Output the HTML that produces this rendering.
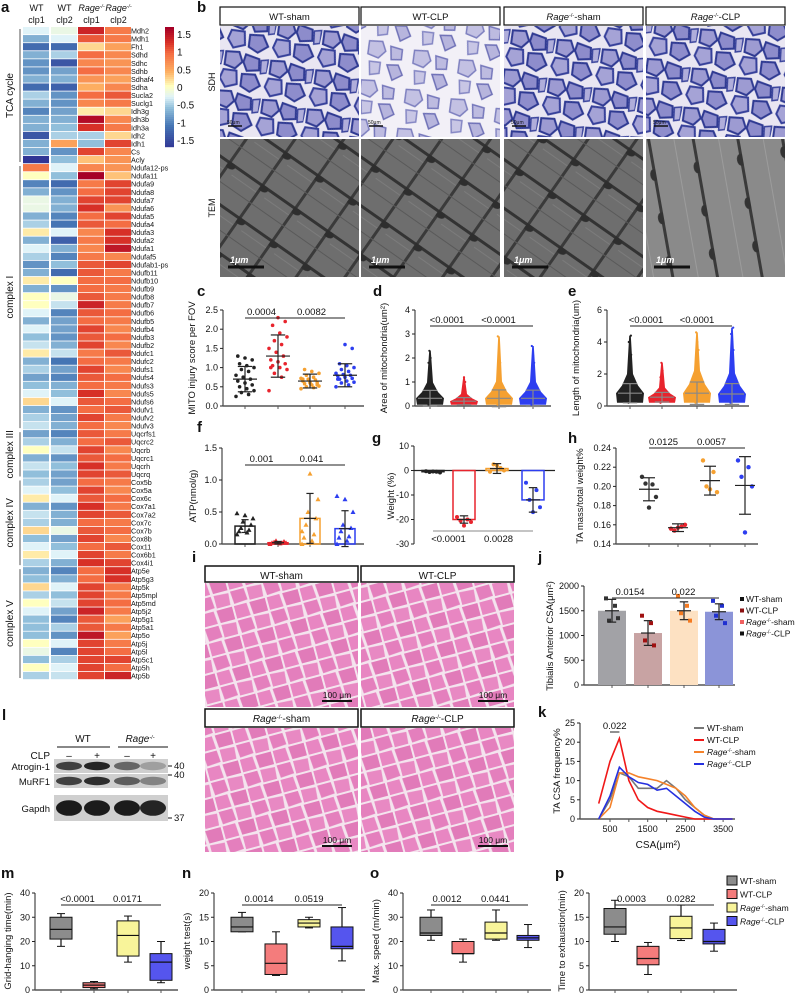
<!DOCTYPE html>
<html><head><meta charset="utf-8">
<style>
html,body{margin:0;padding:0;background:#fff;}
svg{display:block;font-family:"Liberation Sans",Arial,sans-serif;}
</style></head>
<body>
<svg id="fig" width="797" height="997" viewBox="0 0 797 997" xmlns="http://www.w3.org/2000/svg">
<defs>
<pattern id="sdh" width="46" height="40" patternUnits="userSpaceOnUse" patternTransform="rotate(12)">
<rect width="46" height="40" fill="#e9e6f2"/>
<path d="M2 3 L15 1 L20 10 L14 18 L3 16 Z" fill="#9d9bd2" stroke="#2f3a92" stroke-width="2"/>
<path d="M22 2 L36 4 L38 15 L26 18 L21 10 Z" fill="#8d8ccb" stroke="#2f3a92" stroke-width="2"/>
<path d="M3 21 L16 20 L19 33 L8 38 L1 30 Z" fill="#a5a3d6" stroke="#36409a" stroke-width="2"/>
<path d="M22 22 L35 20 L42 30 L33 38 L23 34 Z" fill="#8e8dcc" stroke="#2f3a92" stroke-width="2"/>
<path d="M38 5 L45 3 L46 16 L40 18 Z" fill="#b0aedb" stroke="#3a449c" stroke-width="1.5"/>
</pattern>
<pattern id="sdh2" width="46" height="40" patternUnits="userSpaceOnUse" patternTransform="rotate(12)">
<rect width="46" height="40" fill="#f2f0f7"/>
<path d="M2 3 L15 1 L20 10 L14 18 L3 16 Z" fill="#c3c1e3" stroke="#7d7fbf" stroke-width="1.5"/>
<path d="M24 4 L36 5 L37 15 L27 17 Z" fill="#bdbbe0" stroke="#7577bb" stroke-width="1.5"/>
<path d="M6 23 L17 22 L18 33 L9 36 Z" fill="#c8c6e5" stroke="#8587c4" stroke-width="1.5"/>
<path d="M24 23 L35 21 L41 30 L32 37 Z" fill="#b7b5dd" stroke="#6f71b7" stroke-width="1.5"/>
</pattern>
<pattern id="tem" width="40" height="40" patternUnits="userSpaceOnUse" patternTransform="rotate(35)">
<rect width="40" height="40" fill="#6e6e6e"/>
<rect x="0" y="0" width="40" height="3" fill="#333"/>
<rect x="0" y="0" width="3" height="40" fill="#3a3a3a"/>
<rect x="10" y="10" width="40" height="1" fill="#7c7c7c"/>
<rect x="0" y="22" width="40" height="1" fill="#595959"/>
<ellipse cx="3" cy="3" rx="6" ry="4" fill="#2e2e2e"/>
</pattern>
<pattern id="tem2" width="44" height="44" patternUnits="userSpaceOnUse" patternTransform="rotate(80)">
<rect width="44" height="44" fill="#8a8a8a"/>
<rect x="0" y="0" width="44" height="3" fill="#3a3a3a"/>
<rect x="0" y="20" width="44" height="1" fill="#9c9c9c"/>
<ellipse cx="22" cy="2" rx="6" ry="4" fill="#333"/>
</pattern>
<pattern id="he" width="34" height="30" patternUnits="userSpaceOnUse" patternTransform="rotate(-15)">
<rect width="34" height="30" fill="#f4e4ee"/>
<path d="M1 1 L15 1 L16 13 L2 14 Z" fill="#e47fbd"/>
<path d="M18 1 L33 2 L32 14 L18 14 Z" fill="#e889c3"/>
<path d="M1 16 L14 16 L15 29 L1 29 Z" fill="#e886c2"/>
<path d="M17 16 L33 16 L33 29 L18 29 Z" fill="#e17bb9"/>
</pattern>
</defs>
</svg>
<script>
// ===== data =====
const genes = ["Mdh2","Mdh1","Fh1","Sdhd","Sdhc","Sdhb","Sdhaf4","Sdha","Sucla2","Suclg1","Idh3g","Idh3b","Idh3a","Idh2","Idh1","Cs","Acly",
"Ndufa12-ps","Ndufa11","Ndufa9","Ndufa8","Ndufa7","Ndufa6","Ndufa5","Ndufa4","Ndufa3","Ndufa2","Ndufa1","Ndufaf5","Ndufab1-ps","Ndufb11","Ndufb10","Ndufb9","Ndufb8","Ndufb7","Ndufb6","Ndufb5","Ndufb4","Ndufb3","Ndufb2","Ndufc1","Ndufc2","Ndufs1","Ndufs4","Ndufs3","Ndufs5","Ndufs6","Ndufv1","Ndufv2","Ndufv3",
"Uqcrfs1","Uqcrc2","Uqcrb","Uqcrc1","Uqcrh","Uqcrq",
"Cox5b","Cox5a","Cox6c","Cox7a1","Cox7a2","Cox7c","Cox7b","Cox8b","Cox11","Cox6b1","Cox4i1",
"Atp5e","Atp5g3","Atp5k","Atp5mpl","Atp5md","Atp5j2","Atp5g1","Atp5a1","Atp5o","Atp5j","Atp5l","Atp5c1","Atp5h","Atp5b"];
const wt1 = [-0.2,-0.6,-1.1,-0.6,-0.8,-0.8,-0.6,-1.1,-0.4,-0.6,-0.9,-0.6,-0.6,-1.3,-0.6,-0.6,-1.6,
0.9,0.1,-0.9,-0.6,-0.1,-0.1,-0.6,-0.4,0.2,-0.6,-0.2,-0.4,-0.8,-0.6,0.2,-0.6,0.1,0.1,-0.2,-0.6,-0.2,-0.5,-0.3,0.2,-0.6,-0.4,-0.7,-0.5,-0.2,0.3,-0.6,-0.4,-0.3,
-0.7,-0.4,0.1,-0.6,-0.3,-0.5,
-0.4,-0.2,0.2,-0.6,-0.3,-0.4,0.3,-0.5,-0.2,0.2,-0.4,
-0.6,-0.5,0.3,-0.4,0.1,-0.2,-0.5,-0.5,-0.5,0.1,-0.1,-0.5,0.1,-0.4];
const wt2 = [-0.1,-0.2,-1.1,-0.4,-1.3,-0.7,-0.6,-1.2,-0.8,-0.8,-0.7,-0.6,-0.5,-0.4,0.6,-0.8,-0.5,
-0.2,-0.5,-1.1,-0.8,-0.6,-0.6,-0.9,-1.0,-0.2,-1.2,-0.6,-0.9,-0.5,-1.1,0.1,-0.8,-0.1,-0.3,-0.9,-0.7,-0.7,-0.8,-0.6,-0.3,-1.0,-0.7,-0.9,-0.6,-0.5,-0.2,-0.8,-0.7,-0.6,
-0.9,-0.6,-0.3,-0.8,-0.5,-0.7,
-0.7,-0.5,-0.2,-0.8,-0.6,-0.6,-0.1,-0.7,-0.5,-0.2,-0.6,
-0.9,-0.6,-0.2,-0.5,-0.3,-0.7,-0.9,-0.4,-0.8,-0.2,-0.9,-0.4,-0.2,-0.3];
const rg1 = [1.4,1.1,0.3,1.0,0.8,1.0,0.7,0.5,1.0,0.8,0.2,1.6,1.3,-0.4,-0.5,1.2,0.4,
0.8,1.7,0.9,1.0,1.2,1.3,1.0,1.1,0.8,0.9,0.8,0.9,1.1,1.1,1.0,1.0,1.1,1.4,1.1,1.0,1.2,1.1,1.2,0.9,1.0,1.2,1.1,1.0,1.3,1.1,1.0,1.2,1.0,
1.1,1.0,1.2,1.1,1.3,1.2,
1.0,1.2,1.1,1.3,1.2,1.0,1.1,1.2,1.0,1.2,1.3,
1.0,1.0,1.2,1.2,1.2,1.4,1.1,1.1,1.5,1.2,1.2,1.2,1.2,1.2];
const rg2 = [0.9,0.9,0.6,0.8,0.7,0.8,0.6,0.8,1.1,0.9,0.3,0.8,0.9,0.3,1.2,0.8,0.7,
0.7,0.4,1.2,1.2,1.2,0.7,1.2,1.0,1.3,1.3,1.5,0.8,1.2,0.9,1.0,0.9,0.9,0.9,1.0,0.9,0.8,1.0,0.8,1.1,0.9,0.8,1.0,0.9,0.8,1.0,1.1,0.9,0.8,
0.9,1.1,0.8,1.0,0.9,1.1,
0.9,0.8,1.0,0.9,1.1,0.9,1.0,0.8,1.1,0.9,1.2,
1.3,1.3,0.9,0.9,1.0,0.9,0.6,0.9,0.6,0.9,1.0,1.2,1.0,1.4];
const groupNames = ["TCA cycle","complex I","complex III","complex IV","complex V"];
const groupSizes = [17,33,6,11,14];

const cVals = [[0.25,0.3,0.35,0.4,0.45,0.5,0.55,0.6,0.65,0.7,0.75,0.8,0.9,0.95,1.0,1.05,1.1,1.2,1.25,1.3],
[0.4,0.75,0.85,0.95,1.0,1.05,1.1,1.15,1.2,1.3,1.4,1.5,1.6,1.7,1.8,1.9,2.1,2.2,2.3,1.0],
[0.45,0.48,0.5,0.52,0.55,0.58,0.6,0.62,0.65,0.68,0.7,0.72,0.75,0.8,0.85,0.9,0.95,0.55,0.6,0.7],
[0.5,0.55,0.6,0.62,0.65,0.7,0.72,0.75,0.78,0.8,0.82,0.85,0.9,0.95,1.0,1.05,1.1,1.5,1.6,0.7]];
const cMean=[0.7,1.3,0.65,0.8], cSd=[0.33,0.55,0.18,0.3];
const dVals=[[0.05,0.1,0.12,0.15,0.18,0.2,0.22,0.25,0.28,0.3,0.35,0.4,0.45,0.5,0.6,0.7,0.8,0.9,1.0,1.2,1.4,1.6,1.8,2.0,2.3],
[0.05,0.08,0.1,0.12,0.14,0.16,0.18,0.2,0.22,0.25,0.3,0.35,0.4,0.5,0.6,0.7,0.8,1.0,1.2],
[0.05,0.1,0.12,0.15,0.18,0.2,0.25,0.3,0.35,0.4,0.5,0.6,0.7,0.8,1.0,1.2,1.5,1.8,2.1,2.9],
[0.05,0.1,0.12,0.15,0.18,0.2,0.25,0.3,0.35,0.4,0.5,0.6,0.7,0.8,1.0,1.2,1.5,1.8,2.1,2.5]];
const dMean=[0.32,0.2,0.32,0.32], dSd=[0.33,0.15,0.35,0.34];
const eVals=[[0.2,0.3,0.4,0.5,0.6,0.7,0.8,0.9,1.0,1.1,1.2,1.4,1.6,1.8,2.0,2.4,2.8,3.2,3.6,4.0,4.4],
[0.2,0.3,0.4,0.5,0.6,0.7,0.8,0.9,1.0,1.2,1.5,1.8,2.2,2.7],
[0.2,0.3,0.4,0.5,0.6,0.7,0.8,0.9,1.0,1.2,1.5,2.0,2.5,3.0,3.5,4.0,4.6],
[0.2,0.3,0.4,0.5,0.6,0.7,0.8,0.9,1.0,1.2,1.5,2.0,2.5,3.0,3.5,4.0,4.5,4.9]];
const eMean=[0.8,0.55,0.8,0.75], eSd=[0.6,0.3,0.7,0.65];
const fVals=[[0.15,0.18,0.2,0.22,0.25,0.3,0.35,0.4,0.45,0.48],[0.0,0.01,0.02,0.02,0.03,0.04,0.05,0.02],
[0.0,0.05,0.1,0.15,0.3,0.4,0.5,0.7,1.1,0.2],[0.0,0.05,0.1,0.12,0.2,0.25,0.3,0.5,0.7,0.75]];
const fMean=[0.28,0.02,0.4,0.24], fSd=[0.1,0.02,0.39,0.28];
const gVals=[[-0.3,-0.5,-0.6,-0.8,-0.4],[-19,-20,-20.5,-21,-22.5],[-0.5,1,2.5,0,2],[-5,-8,-12,-15,-17]];
const gMean=[-0.5,-20,0.8,-12], gSd=[0.3,1.5,2,5];
const hVals=[[0.21,0.202,0.203,0.189,0.178],[0.156,0.158,0.154,0.16,0.157],[0.227,0.215,0.2,0.194,0.197],[0.227,0.22,0.21,0.2,0.152]];
const hMean=[0.197,0.157,0.206,0.201], hSd=[0.012,0.004,0.015,0.03];
const jMean=[1500,1050,1500,1480], jSd=[230,250,180,160];
const jVals=[[1750,1600,1300,1350],[1400,1250,900,800],[1800,1600,1450,1300],[1700,1600,1400,1250]];
const kX=[200,500,750,1000,1250,1500,1750,2000,2250,2500,2750,3000,3250,3500,3750];
const kWtSham=[0,5,12,11,8,8,8,10,8,5,3,1,0,0,0];
const kWtClp=[4,15,21,10,5,3,2,1.5,1,0.5,0,0,0,0,0];
const kRgSham=[0,3,12,12,11,10.5,10,9,8,6,3,1,0,0,0];
const kRgClp=[0,6,13.5,11,9.5,9,7.5,8,6,4,2,0.5,0,0,0];
const mBox=[[18,21,25,30,31.5],[0.5,1,2,3,3.5],[11.5,14,22.5,28.5,30.5],[3,4,11.5,15,20]];
const nBox=[[12,12,13,15,16],[3,3.2,5.5,9.5,12],[12.8,13,13.8,14.5,15],[6,8.5,9,13,17]];
const oBox=[[20.5,22.5,23.5,30,33],[11.5,15,15,20,21],[20.5,21,23.5,28,33],[17.5,20.5,21.5,22.5,27]];
const pBox=[[10,11.5,13,16.8,18.5],[3.2,5.2,6.5,9,9.8],[10.2,10.6,12.8,15.2,17.5],[8,9.5,10,12.5,13.8]];

// ===== helpers =====
const NS="http://www.w3.org/2000/svg";
const svg=document.getElementById('fig');
function mk(tag,attrs,parent){const e=document.createElementNS(NS,tag);for(const k in attrs)e.setAttribute(k,attrs[k]);(parent||svg).appendChild(e);return e;}
function txt(x,y,s,size,opts,parent){const o=Object.assign({x:x,y:y,'font-size':size,fill:'#111'},opts||{});const t=mk('text',o,parent);t.textContent=s;return t;}
function grp(name){const g=mk('g',{});return g;}
function lerp(a,b,t){return a+(b-a)*t;}
const stops=[[-1.6,[49,54,149]],[-1.0,[69,117,180]],[-0.5,[145,191,219]],[-0.2,[224,243,248]],[0.1,[255,255,191]],[0.5,[253,174,97]],[1.0,[244,109,67]],[1.3,[215,48,39]],[1.7,[165,0,38]]];
function hc(v){if(v<=stops[0][0])return 'rgb('+stops[0][1]+')';for(let i=1;i<stops.length;i++){if(v<=stops[i][0]){const t=(v-stops[i-1][0])/(stops[i][0]-stops[i-1][0]);const c=stops[i-1][1].map((a,j)=>Math.round(lerp(a,stops[i][1][j],t)));return 'rgb('+c+')';}}return 'rgb('+stops[stops.length-1][1]+')';}
function panelLabel(x,y,s){const t=txt(x,y,s,15,{'font-weight':'bold'});}
function yAxis(g,x,yTop,yBot,min,max,ticks,fmt){const sc=v=>yBot-(v-min)/(max-min)*(yBot-yTop);mk('line',{x1:x,y1:sc(ticks[ticks.length-1]),x2:x,y2:sc(ticks[0]),stroke:'#222','stroke-width':1},g);ticks.forEach(t=>{mk('line',{x1:x-3,y1:sc(t),x2:x,y2:sc(t),stroke:'#222'},g);txt(x-5,sc(t)+3,fmt?fmt(t):String(t),9,{'text-anchor':'end'},g);});return sc;}
function yTitle(g,x,y,s,size){txt(x,y,s,size||9.5,{'text-anchor':'middle',transform:'rotate(-90 '+x+' '+y+')'},g);}
function xAxis(g,x0,x1,y,xs){mk('line',{x1:x0,y1:y,x2:x1,y2:y,stroke:'#555','stroke-width':1.5},g);xs.forEach(x=>mk('line',{x1:x,y1:y,x2:x,y2:y+3,stroke:'#555'},g));}
function bracket(g,x0,x1,y,s){mk('line',{x1:x0,y1:y,x2:x1,y2:y,stroke:'#222'},g);txt((x0+x1)/2,y-3,s,9.5,{'text-anchor':'middle'},g);}
function errBar(g,x,sc,m,sd,w,col){mk('line',{x1:x,y1:sc(m-sd),x2:x,y2:sc(m+sd),stroke:col||'#222','stroke-width':1.2},g);[m-sd,m,m+sd].forEach((v,i)=>mk('line',{x1:x-(i==1?w:w*0.6),y1:sc(v),x2:x+(i==1?w:w*0.6),y2:sc(v),stroke:col||'#222','stroke-width':1.2},g));}
const cols4=['#222','#e8242d','#f5a030','#2d3ef0'];

// ===== panel a heatmap =====
panelLabel(1,12,'a');
(function(){
const g=grp('heatmap');
const colX=[23,51,78,105], cw=27, y0=27, rh=(680-27)/81;
const cols=[wt1,wt2,rg1,rg2];
const heads=[['WT','clp1'],['WT','clp2'],['Rage','clp1'],['Rage','clp2']];
heads.forEach((h,i)=>{
 const t=txt(colX[i]+cw/2,11,h[0],9,{'text-anchor':'middle','font-style':i>1?'italic':'normal'},g);
 if(i>1){const ts=mk('tspan',{'font-size':5,dy:-3},t);ts.textContent='-/-';}
 txt(colX[i]+cw/2,23,h[1],9,{'text-anchor':'middle'},g);
});
genes.forEach((gn,r)=>{
 cols.forEach((arr,c)=>{
  const cell=mk('rect',{x:colX[c],y:y0+r*rh,width:cw-1,height:rh-0.8,fill:hc(arr[r])},g);
  
  
 });
 txt(131,y0+r*rh+rh-1.5,gn,7.2,{},g);
});
let acc=0;
groupNames.forEach((n,i)=>{
 const ya=y0+acc*rh+2, yb=y0+(acc+groupSizes[i])*rh-2;
 mk('line',{x1:20,y1:ya,x2:20,y2:yb,stroke:'#555','stroke-width':1},g);
 const ym=(ya+yb)/2;
 txt(13,ym,n,10,{'text-anchor':'middle',transform:'rotate(-90 13 '+ym+')'},g);
 acc+=groupSizes[i];
});
const cb=grp('heatmap-colorbar');
for(let k=0;k<60;k++){const v=1.7-k*(3.3/60);mk('rect',{x:165,y:27+k*2,width:9,height:2.2,fill:hc(v)},cb);}
const cy=v=>34+(1.5-v)/3*(140-34);
[1.5,1,0.5,0,-0.5,-1,-1.5].forEach(v=>{txt(177,cy(v)+4,String(v),10,{},cb);});
})();

// ===== panel b images =====
panelLabel(197,12,'b');
(function(){
const g=grp('micrograph-grid');
const xs=[220,361,504,646], w=139;
const names=[['WT-sham',''],['WT-CLP',''],['Rage','-sham'],['Rage','-CLP']];
names.forEach((n,i)=>{
 const h=mk('rect',{x:xs[i],y:7,width:w,height:18,fill:'#fff',stroke:'#111','stroke-width':1.2},g);
 
 
 const t=txt(xs[i]+w/2,20,n[0],9.5,{'text-anchor':'middle','font-style':i>1?'italic':'normal'},g);
 if(i>1){const s1=mk('tspan',{'font-size':5.5,dy:-3,'font-style':'normal'},t);s1.textContent='-/-';const s2=mk('tspan',{dy:3,'font-style':'normal'},t);s2.textContent=n[1];}
 const im=mk('rect',{x:xs[i],y:26,width:w,height:111,fill:i==1?'url(#sdh2)':'url(#sdh)'},g);
 
 
 mk('line',{x1:xs[i]+8,y1:126,x2:xs[i]+22,y2:126,stroke:'#111','stroke-width':1.5},g);
 txt(xs[i]+7,124,'50μm',5,{},g);
 const tm=mk('rect',{x:xs[i],y:139,width:w,height:138,fill:i==3?'url(#tem2)':'url(#tem)'},g);
 
 
 mk('line',{x1:xs[i]+8,y1:267,x2:xs[i]+44,y2:267,stroke:'#111','stroke-width':3},g);
 txt(xs[i]+10,263,'1μm',9,{'font-style':'italic','font-weight':'bold',fill:'#fff'},g);
});
txt(215,82,'SDH',9,{'text-anchor':'middle',transform:'rotate(-90 215 82)'},g);
txt(215,208,'TEM',9,{'text-anchor':'middle',transform:'rotate(-90 215 208)'},g);
})();

// ===== scatter panels c, d, e =====
function scatterPanel(name,label,lx,ly,axX,axR,yTop,yBot,min,max,ticks,xs,vals,means,sds,title,br,brY,dense,fmt){
 panelLabel(lx,ly,label);
 const g=grp(name);
 const sc=yAxis(g,axX,yTop,yBot,min,max,ticks,fmt);
 xAxis(g,axX,axR,yBot,xs);
 yTitle(g,axX-28,(yTop+yBot)/2,title);
 vals.forEach((arr,gi)=>{
  const x=xs[gi];
  if(dense){
   const top=Math.max(...arr), core=means[gi], lo=Math.min(...arr);
   const pts=[[lo,13],[core,14],[core+sds[gi]*0.8,8],[core+sds[gi]*2,3],[top,0.8]];
   const d='M'+pts.map(p=>(x-p[1]).toFixed(1)+' '+sc(p[0]).toFixed(1)).join(' L')+' L'+pts.slice().reverse().map(p=>(x+p[1]).toFixed(1)+' '+sc(p[0]).toFixed(1)).join(' L')+' Z';
   const blob=mk('path',{d:d,fill:cols4[gi]},g);
   
   
  }
  arr.forEach((v,i)=>{
   const spread=dense?1.5:9;
   const off=((i*7)%11-5)/5*spread;
   const p=mk('circle',{cx:x+off,cy:sc(v),r:dense?1.1:1.8,fill:cols4[gi]},g);
   
   
  });
  errBar(g,x,sc,means[gi],sds[gi],12,dense?'#888':'#222');
 });
 bracket(g,xs[0],xs[1],brY,br[0]);bracket(g,xs[1],xs[3],brY,br[1]);
 return sc;
}
scatterPanel('chart-c-mito-injury','c',197,296,223,364,310,406,0,2.5,[0,0.5,1,1.5,2,2.5],[245,278,310,345],cVals,cMean,cSd,'MITO injury score per FOV',['0.0004','0.0082'],318,false,v=>v.toFixed(1));
scatterPanel('chart-d-mito-area','d',373,296,415,551,310,406,0,4,[0,1,2,3,4],[430,464,499,533],dVals,dMean,dSd,'Area of mitochondria(um²)',['<0.0001','<0.0001'],326,true);
scatterPanel('chart-e-mito-length','e',568,296,607,749,310,406,0,6,[0,2,4,6],[630,662,697,732],eVals,eMean,eSd,'Length of mitochondria(um)',['<0.0001','<0.0001'],326,true);

// ===== f: ATP bars =====
(function(){
 panelLabel(197,432,'f');
 const g=grp('chart-f-atp');
 const xs=[245,278,310,345];
 const sc=yAxis(g,222,448,544,0,1.5,[0,0.5,1,1.5],v=>v.toFixed(1));
 xAxis(g,222,364,544,xs);
 yTitle(g,196,496,'ATP(nmol/g)');
 fMean.forEach((m,i)=>{
  const b=mk('rect',{x:xs[i]-10,y:sc(m),width:20,height:sc(0)-sc(m),fill:'none',stroke:cols4[i],'stroke-width':1.5},g);
  
  
  fVals[i].forEach((v,k)=>{const p=mk('path',{d:'M'+(xs[i]+((k*5)%9-4)*2)+' '+(sc(v)-2.5)+'l2.5 4.5h-5z',fill:i==0?'#222':cols4[i]},g);});
  errBar(g,xs[i],sc,m,fSd[i],6);
 });
 bracket(g,xs[0],xs[1],465,'0.001');bracket(g,xs[1],xs[3],465,'0.041');
})();

// ===== g: weight bars =====
(function(){
 panelLabel(372,443,'g');
 const g=grp('chart-g-weight');
 const xs=[433,464,497,533];
 const sc=yAxis(g,414,446,544,-30,10,[-30,-20,-10,0,10]);
 mk('line',{x1:414,y1:sc(0),x2:555,y2:sc(0),stroke:'#222','stroke-width':1.2},g);
 yTitle(g,394,496,'Weight (%)');
 gMean.forEach((m,i)=>{
  const y0=Math.min(sc(0),sc(m)),h=Math.abs(sc(m)-sc(0));
  const b=mk('rect',{x:xs[i]-11,y:y0,width:22,height:h,fill:'none',stroke:cols4[i],'stroke-width':1.5},g);
  
  
  gVals[i].forEach((v,k)=>{const p=mk('circle',{cx:xs[i]+((k*3)%5-2)*3.5,cy:sc(v),r:2,fill:i==0?'#222':cols4[i]},g);});
  errBar(g,xs[i],sc,m,gSd[i],7);
 });
 mk('line',{x1:xs[0],y1:531,x2:xs[1],y2:531,stroke:'#888'},g);
 mk('line',{x1:xs[1],y1:531,x2:xs[3],y2:531,stroke:'#888'},g);
 txt((xs[0]+xs[1])/2,542,'<0.0001',9.5,{'text-anchor':'middle'},g);
 txt((xs[1]+xs[3])/2,542,'0.0028',9.5,{'text-anchor':'middle'},g);
})();

// ===== h: TA mass =====
(function(){
 panelLabel(568,443,'h');
 const g=grp('chart-h-ta-mass');
 const xs=[649,678,710,745];
 const sc=yAxis(g,616,448,544,0.14,0.24,[0.14,0.16,0.18,0.2,0.22,0.24],v=>v.toFixed(2));
 xAxis(g,616,758,544,xs);
 yTitle(g,583,496,'TA mass/total weight%');
 hVals.forEach((arr,i)=>{
  arr.forEach((v,k)=>{const p=mk('circle',{cx:xs[i]+((k*3)%5-2)*3.5,cy:sc(v),r:2.2,fill:i==0?'#333':cols4[i]},g);});
  errBar(g,xs[i],sc,hMean[i],hSd[i],10);
 });
 bracket(g,xs[0],xs[1],448,'0.0125');bracket(g,xs[1],xs[3],448,'0.0057');
})();

// ===== i: H&E =====
panelLabel(192,562,'i');
(function(){
 const g=grp('he-image-grid');
 const xs=[205,361],w=153;
 const hd=[['WT-sham',566],['WT-CLP',566],['Rage','-sham',709],['Rage','-CLP',709]];
 [[0,566,583,124],[1,566,583,124],[0,709,728,124],[1,709,728,124]].forEach((c,i)=>{
  const x=xs[c[0]];
  const h=mk('rect',{x:x,y:c[1],width:w,height:c[2]-c[1]-1,fill:'#fff',stroke:'#111','stroke-width':1.5},g);
  
  
  const lab=hd[i];
  const t=txt(x+w/2,c[1]+13,lab[0],10,{'text-anchor':'middle','font-style':i>1?'italic':'normal'},g);
  if(i>1){const s1=mk('tspan',{'font-size':6,dy:-3,'font-style':'normal'},t);s1.textContent='-/-';const s2=mk('tspan',{dy:3,'font-style':'normal'},t);s2.textContent=lab[1];}
  const im=mk('rect',{x:x,y:c[2],width:w,height:c[3],fill:'url(#he)'},g);
  
  
  mk('line',{x1:x+w-36,y1:c[2]+c[3]-6,x2:x+w-6,y2:c[2]+c[3]-6,stroke:'#111','stroke-width':2},g);
  txt(x+w-21,c[2]+c[3]-9,'100 μm',8.5,{'text-anchor':'middle'},g);
 });
})();

// ===== j: CSA bars =====
(function(){
 panelLabel(538,562,'j');
 const g=grp('chart-j-csa');
 const xs=[612,648,684,719];
 const fills=['#a2a2a6','#c8a3a3','#fde1c2','#8b94d8'];
 const ptc=['#333','#a01010','#f57a20','#2030d0'];
 const sc=yAxis(g,584,586,685,0,2000,[0,500,1000,1500,2000]);
 xAxis(g,584,735,685,xs);
 yTitle(g,553,636,'Tibialis Anterior CSA(μm²)');
 jMean.forEach((m,i)=>{
  const b=mk('rect',{x:xs[i]-14,y:sc(m),width:28,height:sc(0)-sc(m),fill:fills[i]},g);
  
  
  jVals[i].forEach((v,k)=>{const p=mk('rect',{x:xs[i]+((k*3)%5-2)*3-2,y:sc(v)-2,width:4,height:4,fill:ptc[i]},g);});
  errBar(g,xs[i],sc,m,jSd[i],7);
 });
 bracket(g,xs[0],xs[1],598,'0.0154');bracket(g,xs[1],xs[3],598,'0.022');
 const lg=grp('legend-j');
 const ln=[['WT-sham','#111',''],['WT-CLP','#8b1010',''],['Rage','#f06060','-sham'],['Rage','#111','-CLP']];
 ln.forEach((l,i)=>{const y=602+i*11.5;mk('rect',{x:740,y:y-5,width:4,height:4,fill:l[1]},lg);const t=txt(746,y,l[0],8.5,{'font-style':i>1?'italic':'normal'},lg);if(i>1){const s=mk('tspan',{'font-size':5,dy:-3,'font-style':'normal'},t);s.textContent='-/-';const s2=mk('tspan',{dy:3,'font-style':'normal'},t);s2.textContent=l[2];}});
})();

// ===== k: CSA frequency lines =====
(function(){
 panelLabel(538,717,'k');
 const g=grp('chart-k-csa-frequency');
 const xsc=v=>610+(v-500)*0.0377;
 const sc=yAxis(g,580,723,819,0,25,[0,5,10,15,20,25]);
 mk('line',{x1:580,y1:819,x2:735,y2:819,stroke:'#555','stroke-width':1.5},g);
 [500,1500,2500,3500].forEach(v=>{mk('line',{x1:xsc(v),y1:819,x2:xsc(v),y2:822,stroke:'#555'},g);txt(xsc(v),832,String(v),9,{'text-anchor':'middle'},g);});
 [1000,2000,3000].forEach(v=>mk('line',{x1:xsc(v),y1:819,x2:xsc(v),y2:822,stroke:'#555'},g));
 txt(658,848,'CSA(μm²)',10,{'text-anchor':'middle'},g);
 yTitle(g,560,771,'TA CSA frequency%');
 const series=[[kWtSham,'#777','WT-sham'],[kWtClp,'#f01818','WT-CLP'],[kRgSham,'#f5822a','Rage-sham'],[kRgClp,'#2530e0','Rage-CLP']];
 series.forEach(s=>{
  const d=kX.map((x,i)=>(i?'L':'M')+xsc(x).toFixed(1)+' '+sc(s[0][i]).toFixed(1)).join(' ');
  const p=mk('path',{d:d,fill:'none',stroke:s[1],'stroke-width':1.6},g);
  
  
 });
 bracket(g,xsc(500),xsc(750),732,'0.022');
 const lg=grp('legend-k');
 series.forEach((s,i)=>{const y=731+i*12;mk('line',{x1:694,y1:y-3,x2:704,y2:y-3,stroke:s[1],'stroke-width':2},lg);const isR=i>1;const t=txt(707,y,isR?'Rage':s[2],8.5,{'font-style':isR?'italic':'normal'},lg);if(isR){const a=mk('tspan',{'font-size':5,dy:-3,'font-style':'normal'},t);a.textContent='-/-';const b=mk('tspan',{dy:3,'font-style':'normal'},t);b.textContent=s[2].slice(4);}});
})();

// ===== l: western blot =====
(function(){
 panelLabel(2,720,'l');
 const g=grp('western-blot');
 const lanes=[69,97,127,153];
 txt(83,742,'WT',10,{'text-anchor':'middle'},g);
 mk('line',{x1:57,y1:747,x2:110,y2:747,stroke:'#111'},g);
 const r=txt(140,742,'Rage',10,{'text-anchor':'middle','font-style':'italic'},g);const rs=mk('tspan',{'font-size':5.5,dy:-3},r);rs.textContent='-/-';
 mk('line',{x1:118,y1:747,x2:168,y2:747,stroke:'#111'},g);
 txt(50,759,'CLP',10,{'text-anchor':'end'},g);
 ['–','+','–','+'].forEach((s,i)=>txt(lanes[i],759,s,10,{'text-anchor':'middle'},g));
 const rows=[['Atrogin-1',766,[0.75,0.9,0.55,0.25]],['MuRF1',781,[0.75,0.85,0.6,0.4]],['Gapdh',808,[0.95,0.95,0.95,0.9]]];
 rows.forEach(rw=>{
  const h=rw[0]=='Gapdh'?26:14;
  const bg=mk('rect',{x:54,y:rw[1]-h/2,width:114,height:h,fill:'#cfcfcf'},g);
  
  
  rw[2].forEach((a,i)=>mk('ellipse',{cx:lanes[i],cy:rw[1],rx:13,ry:h*0.3,fill:'#111','fill-opacity':a},g));
  txt(50,rw[1]+4,rw[0],9.5,{'text-anchor':'end'},g);
 });
 [[766,'40'],[775,'40'],[818,'37']].forEach(m=>{mk('line',{x1:168,y1:m[0],x2:172,y2:m[0],stroke:'#111'},g);txt(174,m[0]+3,m[1],9.5,{},g);});
})();

// ===== m, n, o, p: box plots =====
const boxFill=['#8c8c8c','#f47c7c','#f8f49a','#5555ee'];
function boxPanel(name,label,lx,axX,axR,xs,max,ticks,data,title,br){
 panelLabel(lx,878,label);
 const g=grp(name);
 const sc=yAxis(g,axX,893,990,0,max,ticks);
 xAxis(g,axX,axR,990,xs);
 yTitle(g,axX-24,941,title);
 data.forEach((b,i)=>{
  const x=xs[i];
  mk('line',{x1:x,y1:sc(b[0]),x2:x,y2:sc(b[4]),stroke:'#111','stroke-width':1.2},g);
  mk('line',{x1:x-4,y1:sc(b[0]),x2:x+4,y2:sc(b[0]),stroke:'#111'},g);
  mk('line',{x1:x-4,y1:sc(b[4]),x2:x+4,y2:sc(b[4]),stroke:'#111'},g);
  const bx=mk('rect',{x:x-11,y:sc(b[3]),width:22,height:sc(b[1])-sc(b[3]),fill:boxFill[i],stroke:'#111','stroke-width':1},g);
  
  
  mk('line',{x1:x-11,y1:sc(b[2]),x2:x+11,y2:sc(b[2]),stroke:'#111','stroke-width':1.2},g);
 });
 bracket(g,xs[0],xs[1],905,br[0]);bracket(g,xs[1],xs[3],905,br[1]);
}
boxPanel('chart-m-grid-hanging','m',1,35,178,[61,94,128,161],40,[0,10,20,30,40],mBox,'Grid-hanging time(min)',['<0.0001','0.0171']);
boxPanel('chart-n-weight-test','n',182,214,365,[242,276,309,342],20,[0,5,10,15,20],nBox,'weight test(s)',['0.0014','0.0519']);
boxPanel('chart-o-max-speed','o',370,403,551,[431,463,496,528],40,[0,10,20,30,40],oBox,'Max. speed (m/min)',['0.0012','0.0441']);
boxPanel('chart-p-exhaustion','p',555,589,737,[615,648,681,714],20,[0,5,10,15,20],pBox,'Time to exhaustion(min)',['0.0003','0.0282']);
(function(){
 const lg=grp('legend-boxplots');
 const ln=[['WT-sham',''],['WT-CLP',''],['Rage','-sham'],['Rage','-CLP']];
 ln.forEach((l,i)=>{const y=884+i*13.5;mk('rect',{x:727,y:y-8,width:10,height:9,fill:boxFill[i],stroke:'#111'},lg);const t=txt(740,y,l[0],8.5,{'font-style':i>1?'italic':'normal'},lg);if(i>1){const s=mk('tspan',{'font-size':5,dy:-3,'font-style':'normal'},t);s.textContent='-/-';const s2=mk('tspan',{dy:3,'font-style':'normal'},t);s2.textContent=l[1];}});
})();
</script>
</body></html>
